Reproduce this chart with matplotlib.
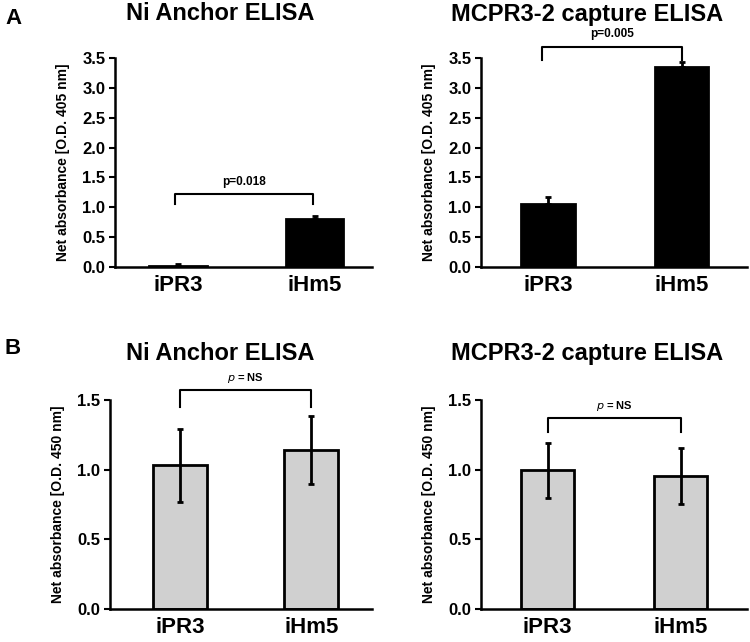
import matplotlib
matplotlib.use("Agg")
import matplotlib.pyplot as plt

plt.rcParams['font.family'] = ['Liberation Sans', 'DejaVu Sans']

categories = ["iPR3", "iHm5"]

# Panel A (O.D. 405 nm)
a_ni_vals = [0.01, 0.80]
a_ni_err = [0.04, 0.06]
a_mc_vals = [1.05, 3.35]
a_mc_err = [0.13, 0.08]
# Panel B (O.D. 450 nm)
b_ni_vals = [1.03, 1.14]
b_ni_err = [0.26, 0.245]
b_mc_vals = [0.995, 0.955]
b_mc_err = [0.195, 0.20]

titles = ["Ni Anchor ELISA", "MCPR3-2 capture ELISA"]
ylabels = ["Net absorbance [O.D. 405 nm]", "Net absorbance [O.D. 450 nm]"]
pvals = ["p=0.018", "p=0.005", "p = NS", "p = NS"]

fig = plt.figure(figsize=(7.5, 6.42), dpi=100)
W, H = 750, 642

def box(l, r, t, b):
    return [l / W, 1 - b / H, (r - l) / W, (b - t) / H]

panels = [
    dict(rect=box(115, 372, 58, 267), vals=a_ni_vals, err=a_ni_err, ylim=3.5,
         yticks=[0, 0.5, 1.0, 1.5, 2.0, 2.5, 3.0, 3.5], color="black", twosided=False,
         xlim=(-0.46, 1.42), width=0.42, title=titles[0], ylabel=ylabels[0],
         p=pvals[0], bry=(1.05, 1.22), pty=1.32, brx=(-0.02, 0.99), tpos=(220, 14)),
    dict(rect=box(481, 747, 58, 267), vals=a_mc_vals, err=a_mc_err, ylim=3.5,
         yticks=[0, 0.5, 1.0, 1.5, 2.0, 2.5, 3.0, 3.5], color="black", twosided=False,
         xlim=(-0.5, 1.49), width=0.40, title=titles[1], ylabel=ylabels[0],
         p=pvals[1], bry=(3.47, 3.68), pty=3.8, brx=(-0.04, 1.0), tpos=(587, 14)),
    dict(rect=box(110, 372, 400, 609), vals=b_ni_vals, err=b_ni_err, ylim=1.5,
         yticks=[0, 0.5, 1.0, 1.5], color="#d0d0d0", twosided=True,
         xlim=(-0.53, 1.46), width=0.41, title=titles[0], ylabel=ylabels[1],
         p=pvals[2], bry=(1.45, 1.57), pty=1.61, brx=(0.0, 1.0), tpos=(220, 354)),
    dict(rect=box(481, 747, 400, 609), vals=b_mc_vals, err=b_mc_err, ylim=1.5,
         yticks=[0, 0.5, 1.0, 1.5], color="#d0d0d0", twosided=True,
         xlim=(-0.5, 1.5), width=0.40, title=titles[1], ylabel=ylabels[1],
         p=pvals[3], bry=(1.27, 1.37), pty=1.41, brx=(0.0, 1.0), tpos=(587, 354)),
]

for i, P in enumerate(panels):
    ax = fig.add_axes(P["rect"])
    x = list(range(len(categories)))
    if P["twosided"]:
        yerr = [P["err"], P["err"]]
    else:
        yerr = [[0] * len(P["err"]), P["err"]]
    ax.bar(x, P["vals"], width=P["width"], color=P["color"], edgecolor="black",
           linewidth=2.0, zorder=2)
    ax.errorbar(x, P["vals"], yerr=yerr, fmt="none", ecolor="black",
                elinewidth=2.0, capsize=2.5, capthick=2.0, zorder=3)
    ax.set_xlim(*P["xlim"])
    ax.set_ylim(0, P["ylim"])
    ax.set_yticks(P["yticks"])
    ax.set_yticklabels([f"{v:.1f}" for v in P["yticks"]], fontsize=12, fontweight="bold")
    ax.set_xticks(x)
    ax.set_xticklabels(categories, fontsize=16, fontweight="bold")
    ax.tick_params(axis="x", length=0, pad=6)
    ax.tick_params(axis="y", length=4, width=1.5, direction="out", pad=3)
    for s in ["top", "right"]:
        ax.spines[s].set_visible(False)
    for s in ["left", "bottom"]:
        ax.spines[s].set_linewidth(1.8)
    ax.set_ylabel(P["ylabel"], fontsize=10, fontweight="bold", labelpad=9)
    fig.text(P["tpos"][0] / W, 1 - P["tpos"][1] / H, P["title"], fontsize=17,
             fontweight="bold", ha="center", va="center")
    # significance bracket
    x0, x1 = P["brx"]
    ylo, yhi = P["bry"]
    ax.plot([x0, x0, x1, x1], [ylo, yhi, yhi, ylo], color="black", lw=1.5,
            clip_on=False, zorder=4)
    if P["p"].startswith("p ="):
        ax.text((x0 + x1) / 2, P["pty"], r"$\bf{\it{p}}$ = NS", ha="center", va="bottom",
                fontsize=8, fontweight="bold", clip_on=False)
    else:
        ax.text((x0 + x1) / 2, P["pty"], P["p"], ha="center", va="bottom",
                fontsize=8.5, fontweight="bold", clip_on=False)

fig.text(5 / W, 1 - 19 / H, "A", fontsize=16, fontweight="bold", va="center", ha="left")
fig.text(5 / W, 1 - 349 / H, "B", fontsize=16, fontweight="bold", va="center", ha="left")

fig.savefig("out.png", dpi=100)
